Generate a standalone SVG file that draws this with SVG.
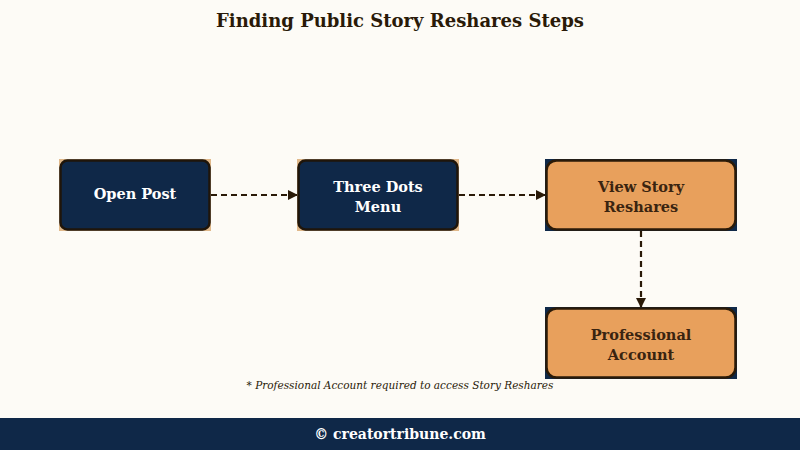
<svg xmlns="http://www.w3.org/2000/svg" width="800" height="450" viewBox="0 0 800 450">
<defs>
<style>
.bg{fill:#FDFBF6}
.title{font-family:"DejaVu Serif","Liberation Serif",serif;font-weight:bold;font-size:18px;fill:#2A1A08}
.navy-box{fill:#E0B88A}
.navy{fill:#0F2848;stroke:#1F150A;stroke-width:2.5}
.orange-box{fill:#0F2848}
.orange{fill:#E8A05C;stroke:#2A1A08;stroke-width:2.5}
.lt{font-family:"DejaVu Serif","Liberation Serif",serif;font-weight:bold;font-size:14.5px;fill:#FFFFFF;text-anchor:middle}
.dt{font-family:"DejaVu Serif","Liberation Serif",serif;font-weight:bold;font-size:14.5px;fill:#3A2410;text-anchor:middle}
.edge{stroke:#2A1A08;stroke-width:2.2;stroke-dasharray:6,4;fill:none}
.note{font-family:"DejaVu Serif","Liberation Serif",serif;font-style:italic;font-size:10.5px;fill:#2A1A08;text-anchor:middle}
.foot{font-family:"DejaVu Serif","Liberation Serif",serif;font-weight:bold;font-size:14px;fill:#FFFFFF;text-anchor:middle}
</style>
<marker id="ah" markerWidth="10" markerHeight="10" refX="9" refY="5" orient="auto" markerUnits="userSpaceOnUse">
<path d="M0,0 L10,5 L0,10 Z" fill="#2A1A08"/>
</marker>
</defs>
<rect class="bg" x="0" y="0" width="800" height="450"/>
<text class="title" x="400" y="27" text-anchor="middle">Finding Public Story Reshares Steps</text>

<g id="connectors">
<line class="edge" x1="211" y1="195" x2="297" y2="195" marker-end="url(#ah)"/>
<line class="edge" x1="459" y1="195" x2="545" y2="195" marker-end="url(#ah)"/>
<line class="edge" x1="641" y1="231" x2="641" y2="307" marker-end="url(#ah)"/>
</g>

<g id="open-post">
<rect class="navy-box" x="59" y="159" width="152" height="72"/>
<rect class="navy" x="60.5" y="160.5" width="149" height="69" rx="7"/>
<text class="lt" x="135" y="199">Open Post</text>
</g>

<g id="three-dots-menu">
<rect class="navy-box" x="297" y="159" width="162" height="72"/>
<rect class="navy" x="298.5" y="160.5" width="159" height="69" rx="7"/>
<text class="lt" x="378" y="192">Three Dots</text>
<text class="lt" x="378" y="212">Menu</text>
</g>

<g id="view-story-reshares">
<rect class="orange-box" x="545" y="159" width="192" height="72"/>
<rect class="orange" x="546.5" y="160.5" width="189" height="69" rx="10"/>
<text class="dt" x="641" y="192">View Story</text>
<text class="dt" x="641" y="212">Reshares</text>
</g>

<g id="professional-account">
<rect class="orange-box" x="545" y="307" width="192" height="72"/>
<rect class="orange" x="546.5" y="308.5" width="189" height="69" rx="10"/>
<text class="dt" x="641" y="340">Professional</text>
<text class="dt" x="641" y="360">Account</text>
</g>

<text class="note" x="400" y="389">* Professional Account required to access Story Reshares</text>

<rect x="0" y="418" width="800" height="32" fill="#0F2848"/>
<text class="foot" x="400" y="439">© creatortribune.com</text>
</svg>
